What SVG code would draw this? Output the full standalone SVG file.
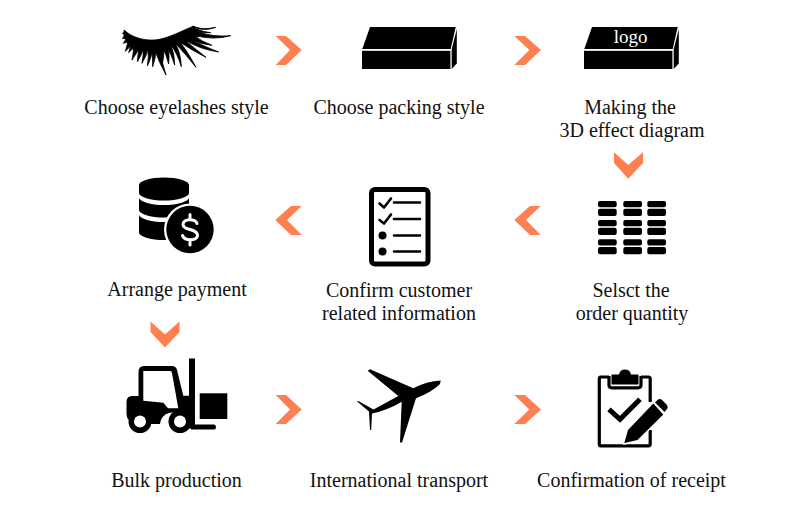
<svg xmlns="http://www.w3.org/2000/svg" width="790" height="508" viewBox="0 0 790 508">
<defs>
<style>
text{font-family:"Liberation Serif","Times New Roman",serif;font-size:20px;fill:#111;text-anchor:middle}
.chev{fill:#ff7f50}
.ln{fill:none;stroke:#000;stroke-linecap:round;stroke-linejoin:round}
.wl{fill:none;stroke:#fff}
.lash path{stroke:#000;stroke-width:2.5;stroke-linejoin:round}
</style>
<g id="box-shape">
<path d="M370 27H455.7L450.7 49H362.3Z"/>
<rect x="362" y="50.800" width="88.400" height="18.200"/>
<path d="M456.800 29V63.500L451.700 69V49.300Z"/>
</g>
<g id="grid-cell">
<rect x="598" y="201" width="18.700" height="6.200" rx="2"/>
<rect x="598" y="208.800" width="18.700" height="7.200" rx="2"/>
</g>
</defs>
<rect width="790" height="508" fill="#fff"/>

<g id="connectors">
<path class="chev" d="M275.700 36H286L301.700 50L286 65H275.700L290 50Z"/>
<path class="chev" d="M514.300 36H525L541 50L525 65H514.300L529.300 50Z"/>
<path class="chev" d="M614 152.300L628.300 165L643 152.300V163L628.300 178.700L614 163Z"/>
<path class="chev" d="M540.700 206H530L514.300 220L530 235H540.700L526 220Z"/>
<path class="chev" d="M301.700 206H291L275.300 220L291 235H301.700L287 220Z"/>
<path class="chev" d="M150.500 321.500L165 334.500L179.500 321.500V332L165 347.500L150.500 332Z"/>
<path class="chev" d="M275.700 395H286L301.700 409.500L286 424H275.700L290 409.500Z"/>
<path class="chev" d="M514.300 395H525L541 409.500L525 424H514.300L529.300 409.500Z"/>
</g>

<g id="node-eyelashes">
<g class="lash" transform="translate(100 10) scale(.3333)">
<path d="M72 60C95 82 130 92 165 90C205 86 245 62 282 48L302 76C260 95 210 112 160 118C125 116 95 105 76 84Z"/>
<path d="M75 62Q70 65 68 72Q75 72 85 76Z"/>
<path d="M76 72Q70 78 68 86Q76 85 86 86Z"/>
<path d="M80 82Q76 92 70 100Q80 97 92 92Z"/>
<path d="M84 90Q82 105 76 124Q88 112 100 100Z"/>
<path d="M92 98Q92 112 86 128Q100 115 108 104Z"/>
<path d="M100 102Q102 125 96 150Q112 130 118 108Z"/>
<path d="M114 108Q116 130 112 155Q126 135 130 112Z"/>
<path d="M128 112Q132 135 126 160Q140 138 144 114Z"/>
<path d="M142 114Q148 140 142 168Q156 142 156 116Z"/>
<path d="M152 114Q160 145 158 170Q168 142 168 116Z"/>
<path d="M162 114Q176 155 198 195Q184 150 178 114Z"/>
<path d="M176 112Q186 140 186 166Q194 138 190 110Z"/>
<path d="M186 110Q200 135 206 162Q210 135 202 106Z"/>
<path d="M198 108Q216 135 224 165Q224 130 212 104Z"/>
<path d="M212 104Q232 130 244 170Q242 128 226 100Z"/>
<path d="M226 100Q250 125 288 172Q260 120 240 96Z"/>
<path d="M240 96Q270 118 318 142Q280 112 254 90Z"/>
<path d="M254 90Q300 118 356 126Q305 108 270 84Z"/>
<path d="M272 86Q305 104 336 106Q305 94 284 78Z"/>
<path d="M282 76Q340 92 392 77Q340 82 296 66Z"/>
<path d="M278 50Q310 66 347 52Q310 60 290 52Z"/>
<path d="M284 60Q310 72 332 68Q310 66 292 58Z"/>
</g>
</g>

<g id="node-packing"><use href="#box-shape"/></g>

<g id="node-logo"><use href="#box-shape" x="222"/>
<text x="630.700" y="43" style="fill:#fff;font-size:19px">logo</text></g>

<g id="node-payment">
<path d="M139 185A25 7.500 0 0 1 189 185V193A25 7.500 0 0 1 139 193Z"/>
<path d="M139 197.500A25 7.500 0 0 0 189 197.500V210A25 7.500 0 0 1 139 210Z"/>
<path d="M139 214.500A25 7.500 0 0 0 189 214.500V232.500A25 7.500 0 0 1 139 232.500Z"/>
<circle cx="190" cy="229.500" r="26" fill="#fff"/>
<circle cx="190" cy="229.500" r="23.700"/>
<path d="M197 223.500C195.500 218.500 183 218 183 224.500C183 231 197.500 228 197.500 235.500C197.500 241.500 184 241 182.500 235.500M190 214.500V219.500M190 240V245" fill="none" stroke="#fff" stroke-width="3" stroke-linecap="round"/>
</g>

<g id="node-confirm-info">
<rect x="371.500" y="189.500" width="56.500" height="74.500" rx="3.500" fill="none" stroke="#000" stroke-width="5"/>
<path class="ln" stroke-width="2.600" d="M379.500 203.500L384 207.500L391 198.500M379.500 220L384 223.500L391 214.500M394 202.500H420M394 219H420M394 235.500H420M394 251.500H420"/>
<circle cx="382.500" cy="235.500" r="4"/><circle cx="382.500" cy="251.500" r="4"/>
</g>

<g id="node-quantity">
<use href="#grid-cell"/><use href="#grid-cell" x="25.300"/><use href="#grid-cell" x="49.300"/>
<use href="#grid-cell" y="19"/><use href="#grid-cell" x="25.300" y="19"/><use href="#grid-cell" x="49.300" y="19"/>
<use href="#grid-cell" y="38.200"/><use href="#grid-cell" x="25.300" y="38.200"/><use href="#grid-cell" x="49.300" y="38.200"/>
</g>

<g id="node-forklift">
<rect x="189" y="358.500" width="6" height="70"/>
<path d="M191 424.500H214Q216 424.500 216 427T214 429.500H191Z"/>
<rect x="199.700" y="393.300" width="27.600" height="25.700"/>
<path d="M138.500 396V372Q138.500 366 144 366H172Q176 366 177 370L183.300 395.700H189V418H182A12 12 0 0 0 160 424H151A12 12 0 0 0 129 420Q126.500 418 126.500 414V402Q126.500 396 132 396Z"/>
<path d="M143.300 371H170.500Q171.500 371 172 373L178.300 408.300H168L163.300 402.700L143.300 400.700Z" fill="#fff"/>
<circle cx="140" cy="421.500" r="11.500"/><circle cx="180" cy="421.500" r="11.500"/>
<circle cx="140" cy="421.500" r="6" fill="#fff"/><circle cx="180" cy="421.500" r="6" fill="#fff"/>
</g>

<g id="node-transport">
<path d="M440.700 380.500Q427 381 413.300 388.300L370 369.300L367.700 370.700L398.300 396L373.500 409.500L357.800 400.700L357.200 401.500L369 411.500L370 430H371.200L372 413.500Q388 410 401.700 401.700L400 442.500H402L416 398.300Q432 392 440 384Z"/>
</g>

<g id="node-receipt">
<path d="M609 377H600.500Q599.300 377 599.300 379V444Q599.300 445.800 600.500 445.800H648.500Q650.200 445.800 650.200 444V430M650.200 402V379Q650.200 377 648.500 377H641M609 376V385Q609 387.800 612 387.800H638Q641 387.800 641 385V376" fill="none" stroke="#000" stroke-width="3.200"/>
<path d="M611.500 374.500H619Q620 369.500 625 369.500T631 374.500H638.500V384.500H611.500Z"/>
<path d="M609 409.300L620 419.300L640 399.300" fill="none" stroke="#000" stroke-width="5"/>
<path d="M623 445L626.500 429L652.500 401L665 414L638 442Z" fill="#fff"/>
<path d="M653.300 403.500L663.300 414.500L637.500 440L624.300 443L628 430Z"/>
<path d="M655 402.500L658 399.500Q660.500 398.500 662 400L666.500 404.500Q668.500 407 667 409L664.500 412Z"/>
</g>

<g id="labels">
<text x="176.500" y="114">Choose eyelashes style</text>
<text x="399" y="114">Choose packing style</text>
<text x="630" y="114">Making the</text>
<text x="632" y="137">3D effect diagram</text>
<text x="177" y="296">Arrange payment</text>
<text x="399" y="297">Confirm customer</text>
<text x="399" y="320">related information</text>
<text x="631" y="297">Selsct the</text>
<text x="632" y="320">order quantity</text>
<text x="176.500" y="487">Bulk production</text>
<text x="399" y="487">International transport</text>
<text x="631.500" y="487">Confirmation of receipt</text>
</g>
</svg>
